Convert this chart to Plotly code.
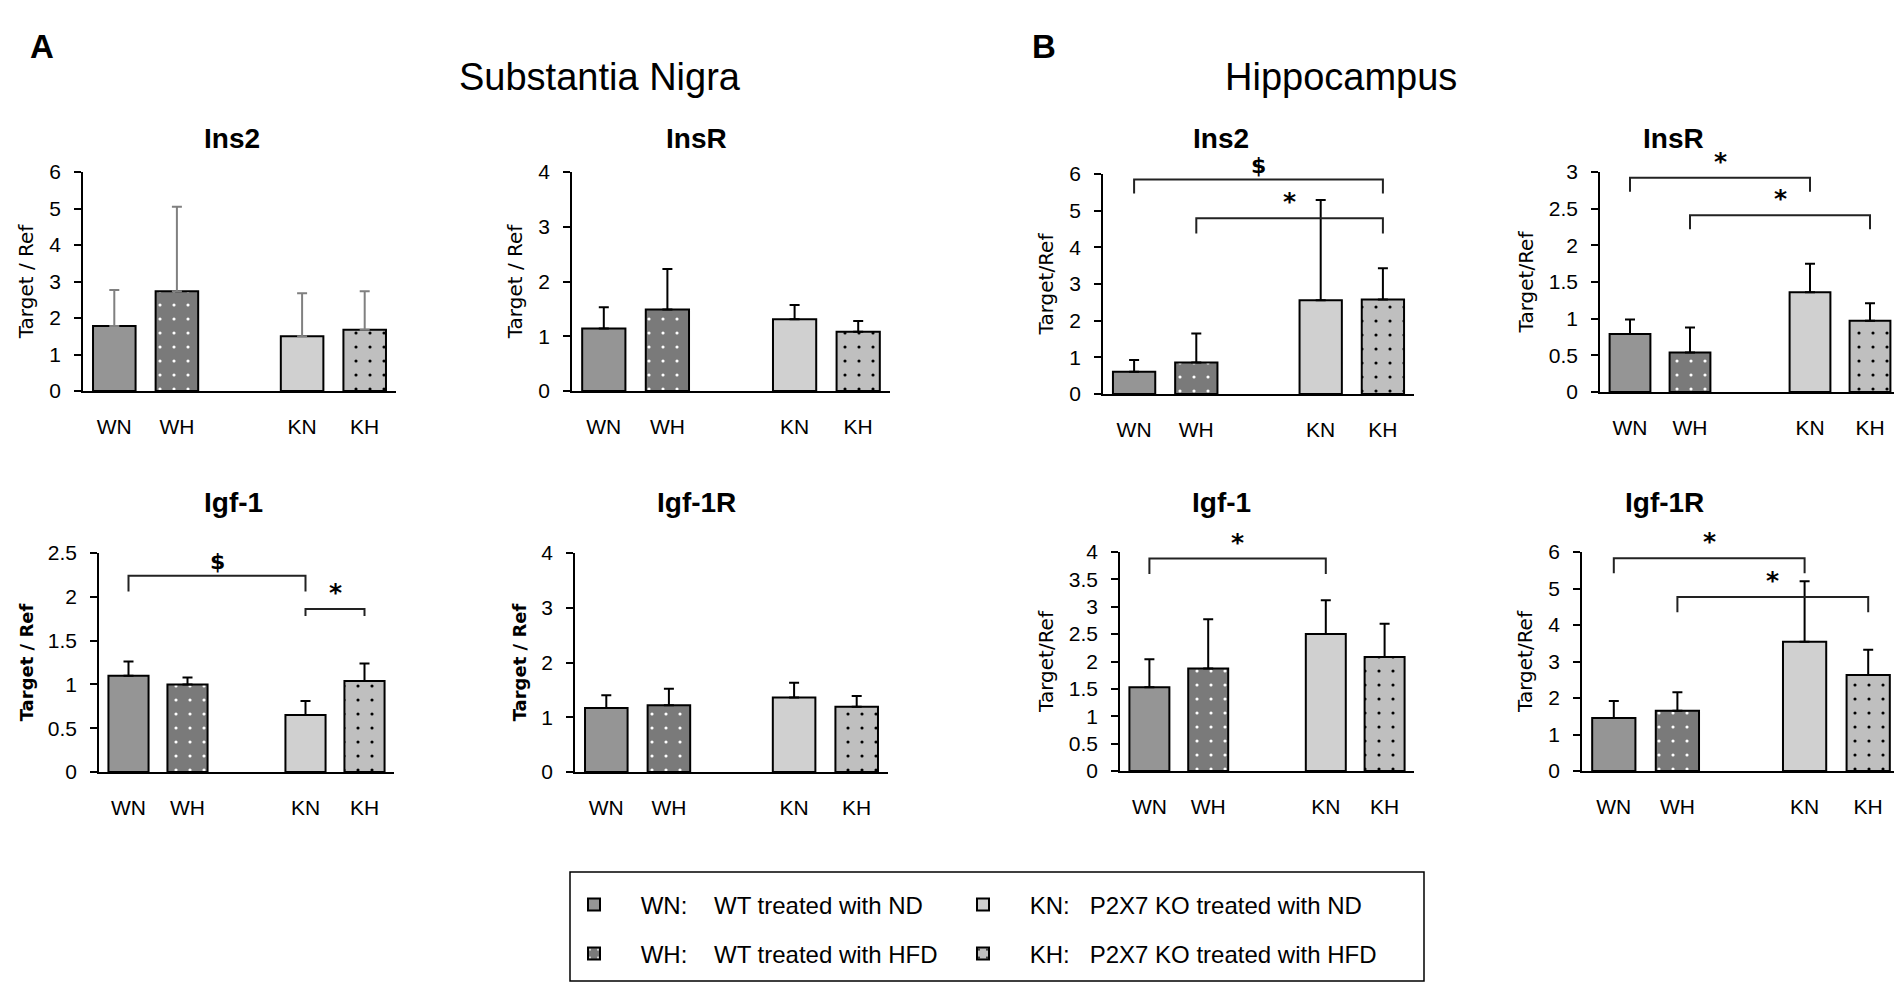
import plotly.graph_objects as go

W, H = 1902, 982

groups = ["WN", "WH", "KN", "KH"]
group_pos = [0, 1, 3, 4]
legend_names = [
    "\u00a0\u00a0\u00a0\u00a0WN:\u00a0\u00a0\u00a0\u00a0WT treated with ND",
    "\u00a0\u00a0\u00a0\u00a0WH:\u00a0\u00a0\u00a0\u00a0WT treated with HFD",
    "\u00a0\u00a0\u00a0\u00a0KN:\u00a0\u00a0\u00a0P2X7 KO treated with ND",
    "\u00a0\u00a0\u00a0\u00a0KH:\u00a0\u00a0\u00a0P2X7 KO treated with HFD",
]

# mean values (bar height) and mean+SD (error bar top), per panel
sn_ins2 = [1.78, 2.73, 1.50, 1.68]
sn_ins2_top = [2.77, 5.05, 2.68, 2.73]
sn_insr = [1.14, 1.49, 1.31, 1.08]
sn_insr_top = [1.53, 2.23, 1.57, 1.28]
sn_igf1 = [1.10, 1.00, 0.65, 1.04]
sn_igf1_top = [1.26, 1.08, 0.81, 1.24]
sn_igf1r = [1.17, 1.22, 1.36, 1.19]
sn_igf1r_top = [1.40, 1.52, 1.63, 1.39]

hc_ins2 = [0.61, 0.86, 2.56, 2.58]
hc_ins2_top = [0.93, 1.65, 5.29, 3.43]
hc_insr = [0.79, 0.54, 1.36, 0.97]
hc_insr_top = [0.99, 0.88, 1.75, 1.21]
hc_igf1 = [1.53, 1.87, 2.50, 2.08]
hc_igf1_top = [2.04, 2.77, 3.12, 2.69]
hc_igf1r = [1.45, 1.65, 3.54, 2.63]
hc_igf1r_top = [1.92, 2.16, 5.20, 3.32]

# significance brackets: (from, to, bracket height, leg end, mark)
sig_sn_igf1 = [("WN", "KN", 2.24, 2.06, "$"), ("KN", "KH", 1.86, 1.78, "*")]
sig_hc_ins2 = [("WN", "KH", 5.85, 5.47, "$"), ("WH", "KH", 4.79, 4.38, "*")]
sig_hc_insr = [("WN", "KN", 2.92, 2.73, "*"), ("WH", "KH", 2.41, 2.22, "*")]
sig_hc_igf1 = [("WN", "KN", 3.88, 3.60, "*")]
sig_hc_igf1r = [("WN", "KN", 5.83, 5.42, "*"), ("WH", "KH", 4.77, 4.35, "*")]

fills = ["#959595", "#7a7a7a", "#d0d0d0", "#bfbfbf"]
dots = [None, "white", None, "black"]

FONT = "Liberation Sans, Arial, sans-serif"
VERD = "DejaVu Sans, Verdana, sans-serif"

# panel: title, means, tops, ymax, dtick, ytitle, bold ytitle, brackets, error colour,
#        box in pixels (left, right, top, bottom), title pos px
panels = [
    ("Ins2", sn_ins2, sn_ins2_top, 6, 1, "Target / Ref", False, [], "#808080", (75, 388, 164, 383), (194, 113)),
    ("InsR", sn_insr, sn_insr_top, 4, 1, "Target / Ref", False, [], "black", (564, 882, 164, 383), (688, 113)),
    ("Igf-1", sn_igf1, sn_igf1_top, 2.5, 0.5, "Target / Ref", True, sig_sn_igf1, "black", (91, 386, 545, 764), (194, 495)),
    ("Igf-1R", sn_igf1r, sn_igf1r_top, 4, 1, "Target / Ref", True, [], "black", (567, 880, 545, 764), (688, 495)),
    ("Ins2", hc_ins2, hc_ins2_top, 6, 1, "Target/Ref", False, sig_hc_ins2, "black", (1095, 1406, 166, 386), (1213, 113)),
    ("InsR", hc_insr, hc_insr_top, 3, 0.5, "Target/Ref", False, sig_hc_insr, "black", (1592, 1892, 164, 384), (1698, 113)),
    ("Igf-1", hc_igf1, hc_igf1_top, 4, 0.5, "Target/Ref", False, sig_hc_igf1, "black", (1112, 1406, 544, 763), (1213, 495)),
    ("Igf-1R", hc_igf1r, hc_igf1r_top, 6, 1, "Target/Ref", False, sig_hc_igf1r, "black", (1574, 1892, 544, 763), (1698, 495)),
]

# one legend per group so each entry sits in its own cell of the 2x2 key
legend_ids = ["legend", "legend3", "legend2", "legend4"]

fig = go.Figure()
layout = {}
annotations = []
shapes = []

for i, (title, vals, tops, ymax, dtick, ytitle, ybold, sigs, ecol, box, tpos) in enumerate(panels):
    n = "" if i == 0 else str(i + 1)
    xa, ya = "x" + n, "y" + n
    left, right, top, bottom = box

    for g in range(4):
        pattern = dict(shape="")
        if dots[g]:
            pattern = dict(shape=".", fgcolor=dots[g], bgcolor=fills[g],
                           size=14, solidity=0.04, fillmode="replace")
        fig.add_trace(go.Bar(
            x=[group_pos[g]], y=[vals[g]],
            width=0.68,
            marker=dict(color=fills[g], line=dict(color="black", width=2), pattern=pattern),
            error_y=dict(type="data", symmetric=False,
                         array=[tops[g] - vals[g]], arrayminus=[0],
                         color=ecol, thickness=2, width=5),
            name=legend_names[g],
            showlegend=(i == 0),
            legend=legend_ids[g],
            xaxis=xa, yaxis=ya,
        ))

    layout["xaxis" + n] = dict(
        domain=[left / W, right / W], anchor=ya, range=[-0.5, 4.5],
        tickmode="array", tickvals=group_pos, ticktext=groups,
        showline=True, linecolor="black", linewidth=2,
        ticks="outside", ticklen=16, tickcolor="rgba(0,0,0,0)",
        tickfont=dict(family=FONT, size=21, color="black"),
        showgrid=False, zeroline=False, fixedrange=True,
    )
    layout["yaxis" + n] = dict(
        domain=[1 - bottom / H, 1 - top / H], anchor=xa, range=[0, ymax], dtick=dtick,
        showline=True, linecolor="black", linewidth=1.5,
        ticks="outside", ticklen=7, tickwidth=1.5, tickcolor="black",
        ticklabelstandoff=9,
        tickfont=dict(family=FONT, size=21, color="black"),
        title=dict(text="<b>" + ytitle + "</b>" if ybold else ytitle,
                   font=dict(family=VERD, size=18 if ybold else 20, color="black"),
                   standoff=10),
        showgrid=False, zeroline=False, fixedrange=True,
    )

    annotations.append(dict(
        text="<b>" + title + "</b>", x=tpos[0] / W, y=1 - tpos[1] / H,
        xref="paper", yref="paper", showarrow=False,
        font=dict(family=FONT, size=28, color="black"),
    ))

    for a, b, yt, yl, mark in sigs:
        x1 = group_pos[groups.index(a)]
        x2 = group_pos[groups.index(b)]
        shapes.append(dict(
            type="path", xref=xa, yref=ya,
            path=f"M {x1},{yl} L {x1},{yt} L {x2},{yt} L {x2},{yl}",
            line=dict(color="#222222", width=2),
        ))
        annotations.append(dict(
            text="<b>" + mark + "</b>", x=(x1 + x2) / 2, y=yt,
            xref=xa, yref=ya, showarrow=False, yanchor="bottom", yshift=0,
            font=dict(family=VERD, size=22 if mark == "$" else 25, color="black"),
        ))

# section headings
for text, px, py, size, bold in [
    ("A", 20, 18, 33, True),
    ("B", 1036, 18, 33, True),
    ("Substantia Nigra", 449, 46, 38, False),
    ("Hippocampus", 1451, 46, 38, False),
]:
    annotations.append(dict(
        text="<b>" + text + "</b>" if bold else text,
        x=px / W, y=1 - py / H, xref="paper", yref="paper", showarrow=False,
        font=dict(family=FONT, size=size, color="black"),
    ))

# legend frame
shapes.append(dict(type="rect", xref="paper", yref="paper",
                   x0=562 / W, x1=1416 / W, y0=1 - 973 / H, y1=1 - 864 / H,
                   line=dict(color="black", width=1.5)))

legend_style = dict(
    orientation="v", xanchor="left", yanchor="middle", itemwidth=30,
    font=dict(family=FONT, size=24, color="black"),
    bgcolor="rgba(0,0,0,0)", borderwidth=0, itemclick=False, itemdoubleclick=False,
)
col_x = [566 / W, 955 / W]
row_y = [1 - 897 / H, 1 - 946 / H]

fig.update_layout(
    width=W, height=H,
    margin=dict(l=0, r=0, t=0, b=0, autoexpand=False),
    paper_bgcolor="white", plot_bgcolor="white",
    barmode="overlay",
    legend=dict(legend_style, x=col_x[0], y=row_y[0]),
    legend2=dict(legend_style, x=col_x[1], y=row_y[0]),
    legend3=dict(legend_style, x=col_x[0], y=row_y[1]),
    legend4=dict(legend_style, x=col_x[1], y=row_y[1]),
    annotations=annotations,
    shapes=shapes,
    **layout,
)

fig.write_html("out.html")
